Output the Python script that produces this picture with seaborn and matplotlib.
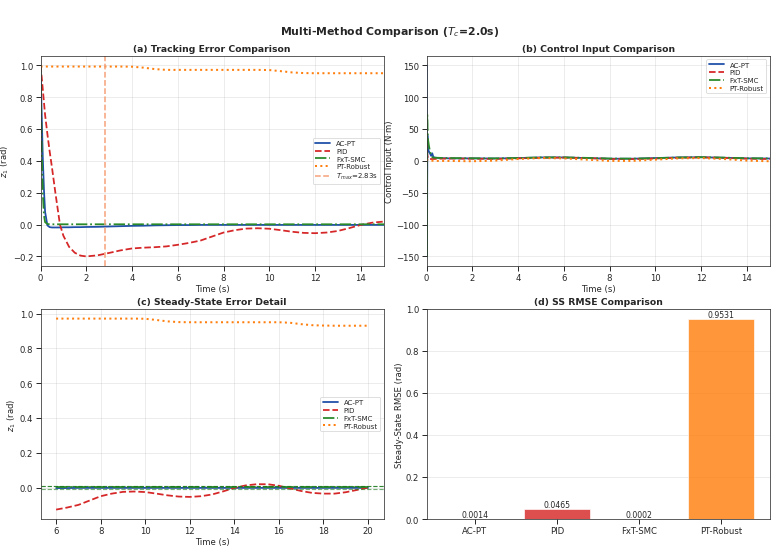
import numpy as np
import pandas as pd
import matplotlib
matplotlib.use("Agg")
import matplotlib.pyplot as plt
import seaborn as sns

# ---------------- data ----------------
methods = ["AC-PT", "PID", "FxT-SMC", "PT-Robust"]
rmse = [0.0014, 0.0465, 0.0002, 0.9531]
t_max = 2.83

time_s = [0, 0.05, 0.1, 0.15, 0.2, 0.3, 0.4, 0.5, 0.65, 0.85, 1.0, 1.25, 1.5, 1.75,
          2.0, 2.5, 3.0, 3.5, 4.0, 4.5, 5.0, 5.5, 6.0, 6.5, 7.0, 7.5, 8.0, 8.5, 9.0,
          9.5, 10.0, 10.5, 11.0, 11.5, 12.0, 12.5, 13.0, 13.5, 14.0, 14.5, 15.0,
          15.5, 16.0, 16.5, 17.0, 17.5, 18.0, 18.5, 19.0, 19.5, 20.0]

z1_acpt = [1.0, 0.70, 0.42, 0.22, 0.08, -0.005, -0.016, -0.018, -0.018, -0.018, -0.017,
           -0.017, -0.016, -0.016, -0.015, -0.014, -0.012, -0.010, -0.008, -0.007, -0.005,
           -0.004, -0.003, -0.003, -0.002, -0.002, -0.002, -0.002, -0.002, -0.002, -0.002,
           -0.002, -0.002, -0.002, -0.002, -0.002, -0.002, -0.002, -0.002, -0.002, -0.002,
           -0.002, -0.002, -0.002, -0.002, -0.002, -0.002, -0.002, -0.002, -0.002, -0.002]

z1_pid = [1.0, 0.93, 0.85, 0.77, 0.69, 0.57, 0.46, 0.36, 0.20, 0.0, -0.07, -0.14,
          -0.177, -0.195, -0.2, -0.193, -0.178, -0.162, -0.150, -0.145, -0.142, -0.137,
          -0.127, -0.115, -0.100, -0.075, -0.050, -0.035, -0.025, -0.023, -0.026, -0.035,
          -0.045, -0.052, -0.054, -0.050, -0.040, -0.022, -0.002, 0.012, 0.019, 0.019,
          0.010, -0.005, -0.020, -0.031, -0.035, -0.035, -0.027, -0.014, 0.0]

z1_fxt = [1.0, 0.50, 0.20, 0.06, 0.015, 0.004, 0.002, 0.002, 0.002, 0.002, 0.002, 0.002,
          0.002, 0.002, 0.002, 0.002, 0.002, 0.002, 0.002, 0.002, 0.002, 0.002, 0.002,
          0.002, 0.002, 0.002, 0.002, 0.002, 0.002, 0.002, 0.002, 0.002, 0.002, 0.002,
          0.002, 0.002, 0.002, 0.002, 0.002, 0.002, 0.002, 0.002, 0.002, 0.002, 0.002,
          0.002, 0.002, 0.002, 0.002, 0.002, 0.002]

z1_ptr = [0.993, 0.993, 0.993, 0.993, 0.993, 0.993, 0.993, 0.993, 0.993, 0.993, 0.993,
          0.993, 0.993, 0.993, 0.993, 0.993, 0.993, 0.993, 0.992, 0.986, 0.977, 0.972,
          0.972, 0.972, 0.972, 0.972, 0.972, 0.972, 0.972, 0.972, 0.971, 0.964, 0.956,
          0.952, 0.951, 0.951, 0.951, 0.951, 0.951, 0.951, 0.951, 0.951, 0.951, 0.948,
          0.940, 0.934, 0.932, 0.931, 0.931, 0.931, 0.931]

u_time = [0, 0.01, 0.02, 0.03, 0.04, 0.06, 0.1, 0.15, 0.2, 0.25, 0.3, 0.4, 0.6, 1.0,
          2.0, 3.0, 4.0, 5.0, 6.0, 7.0, 8.0, 9.0, 10.0, 11.0, 12.0, 13.0, 14.0, 15.0]
u_acpt = [150, 150, -150, -30, 40, 20, 15, 12, 8, 12, 6, 5, 4.5, 4, 4, 3.8, 4.5, 5.5,
          5.5, 4.5, 3.5, 3.5, 4.5, 5.5, 5.8, 5.0, 4.0, 3.8]
u_pid = [30, 25, 18, 12, 8, 5, 3, 3, 3, 3, 3, 3.2, 3.5, 3.8, 3.5, 3.2, 4.0, 5.0, 5.2,
         4.5, 3.2, 3.0, 3.8, 5.0, 5.5, 4.8, 3.6, 3.0]
u_fxt = [0, -150, -80, 75, 60, 35, 25, 15, 10, 6, 5, 5, 4.8, 4.5, 4.2, 4.0, 4.6, 5.5,
         5.6, 4.8, 3.8, 3.6, 4.4, 5.4, 5.9, 5.2, 4.2, 4.0]
u_ptr = [2, 2, 1.5, 1.5, 1, 1, 0.5, 0.5, 0.5, 0.3, 0.2, 0.1, 0, 0, -0.5, 0.5, 3.0, 4.5,
         4.0, 2.0, 0.0, 0.0, 2.0, 4.0, 4.5, 3.0, 0.5, -0.5]

# ---------------- style ----------------
sns.set_theme(style="ticks")
plt.rcParams.update({
    "font.family": ["DejaVu Sans"],
    "axes.grid": True,
    "grid.alpha": 0.3,
    "grid.color": "#b0b0b0",
    "axes.edgecolor": "#333333",
    "axes.linewidth": 1.0,
    "xtick.labelsize": 11,
    "ytick.labelsize": 11,
    "axes.labelsize": 11,
    "axes.labelpad": 2,
})

colors = {"AC-PT": "#1f4fa8", "PID": "#d62728", "FxT-SMC": "#2a8a2a", "PT-Robust": "#ff7f0e"}
styles = {"AC-PT": "-", "PID": "--", "FxT-SMC": "-.", "PT-Robust": ":"}
widths = {"AC-PT": 2.3, "PID": 2.3, "FxT-SMC": 2.3, "PT-Robust": 2.6}

z_series = {"AC-PT": z1_acpt, "PID": z1_pid, "FxT-SMC": z1_fxt, "PT-Robust": z1_ptr}
u_series = {"AC-PT": u_acpt, "PID": u_pid, "FxT-SMC": u_fxt, "PT-Robust": u_ptr}

fig = plt.figure(figsize=(14, 9.9), dpi=779 / 14)
gs = fig.add_gridspec(2, 2, left=0.052, right=0.988, top=0.897, bottom=0.056,
                      wspace=0.125, hspace=0.205)
axa = fig.add_subplot(gs[0, 0])
axb = fig.add_subplot(gs[0, 1])
axc = fig.add_subplot(gs[1, 0])
axd = fig.add_subplot(gs[1, 1])

leg_kw = dict(fontsize=9, labelspacing=0.25, handlelength=2.2, borderpad=0.35)

# (a)
for m in methods:
    sns.lineplot(x=time_s, y=z_series[m], ax=axa, color=colors[m], linestyle=styles[m],
                 linewidth=widths[m], label=m, sort=False)
axa.axvline(t_max, color="#f5a27a", linestyle="--", linewidth=2, label=f"$T_{{max}}$={t_max}s")
axa.set_xlim(0, 15)
axa.set_xlabel("Time (s)")
axa.set_ylabel("$z_1$ (rad)")
axa.set_title("(a) Tracking Error Comparison", fontsize=12, fontweight="bold")
axa.legend(loc="center right", **leg_kw)

# (b)
for m in methods:
    sns.lineplot(x=u_time, y=u_series[m], ax=axb, color=colors[m], linestyle=styles[m],
                 linewidth=widths[m], label=m, sort=False)
axb.set_xlim(0, 15)
axb.set_xlabel("Time (s)")
axb.set_ylabel("Control Input (N·m)")
axb.set_title("(b) Control Input Comparison", fontsize=12, fontweight="bold")
axb.legend(loc="upper right", **leg_kw)

# (c)
ts = np.array(time_s)
mask = ts >= 6
for m in methods:
    sns.lineplot(x=ts[mask], y=np.array(z_series[m])[mask], ax=axc, color=colors[m],
                 linestyle=styles[m], linewidth=widths[m], label=m, sort=False)
axc.axhline(0.01, color="#1a7a1a", linestyle="--", linewidth=1.5, alpha=0.9)
axc.axhline(-0.01, color="#1a7a1a", linestyle="--", linewidth=1.5, alpha=0.6)
axc.set_xlabel("Time (s)")
axc.set_ylabel("$z_1$ (rad)")
axc.set_title("(c) Steady-State Error Detail", fontsize=12, fontweight="bold")
axc.legend(loc="center right", **leg_kw)

# (d)
bar_df = pd.DataFrame({"method": methods, "rmse": rmse})
sns.barplot(data=bar_df, x="method", y="rmse", hue="method",
            palette=[colors[m] for m in methods], ax=axd, width=0.8, saturation=1,
            alpha=0.82, edgecolor="white", linewidth=1, legend=False)
for i, v in enumerate(rmse):
    axd.text(i, v, f"{v:.4f}", ha="center", va="bottom", fontsize=10)
axd.set_xlim(-0.59, 3.59)
axd.set_ylim(0, 1.0)
axd.set_xlabel("")
axd.set_ylabel("Steady-State RMSE (rad)")
axd.set_title("(d) SS RMSE Comparison", fontsize=12, fontweight="bold")
axd.grid(axis="x", visible=False)

fig.suptitle("Multi-Method Comparison ($T_c$=2.0s)", fontsize=14, fontweight="bold", y=0.955)

fig.savefig("out.png", dpi=779 / 14)
